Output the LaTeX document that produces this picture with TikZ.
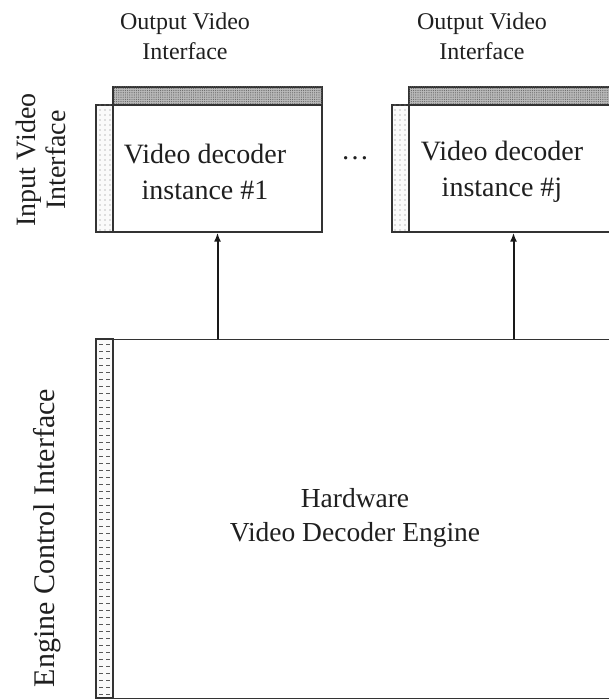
\documentclass[tikz,border=0pt]{standalone}
\usepackage{fontspec}
\setmainfont{Liberation Serif}
\usetikzlibrary{patterns.meta,arrows.meta}
\begin{document}
\begin{tikzpicture}[x=1pt,y=-1pt,
  lbl/.style={align=center, text=black!88, inner sep=0pt},
  toplbl/.style={lbl, font=\fontsize{24}{30}\selectfont},
  boxlbl/.style={lbl, font=\fontsize{28}{36}\selectfont},
  sidelbl/.style={lbl, font=\fontsize{28}{30}\selectfont},
  body/.style={draw=black!80, line width=1.3pt, fill=white, inner sep=0pt},
  topstrip/.style={draw=black!80, line width=1.3pt, fill=gray!55, postaction={pattern={Dots[radius=0.6pt,distance=2.2pt]}, pattern color=black!60}},
  sidestrip/.style={draw=black!80, line width=1.3pt, fill=gray!4, postaction={pattern={Dots[radius=0.6pt,distance=5pt]}, pattern color=black!50}},
  link/.style={draw=black!90, line width=2pt, -{Latex[length=9pt,width=7pt]}}
]
\useasboundingbox (0,0) rectangle (609,700);
\clip (0,0) rectangle (609,700);
% instance boxes
\draw[topstrip] (113,87) rectangle (322,105);
\draw[sidestrip] (96,105) rectangle (113,232);
\node[body, minimum width=209pt, minimum height=127pt] (b1) at (217.5,168.5) {};
\draw[topstrip] (409,87) rectangle (640,105);
\draw[sidestrip] (392,105) rectangle (409,232);
\node[body, minimum width=209pt, minimum height=127pt] (b2) at (513.5,168.5) {};
\node[boxlbl] (t1) at (205,172) {Video decoder\\instance \#1};
\node[boxlbl] (t2) at (502,172) {Video decoder\\instance \#j};
\node[boxlbl] (dots) at (355,158) {\dots};
% output labels
\node[toplbl] (o1) at (185,36) {Output Video\\Interface};
\node[toplbl] (o2) at (482,36) {Output Video\\Interface};
% input label
\node[sidelbl, rotate=90] (in) at (41,160) {Input Video\\Interface};
% engine
\node[body, minimum width=520pt, minimum height=359pt, anchor=north west] (eng) at (113,339) {};
\fill[gray!4] (96,339) rectangle (113,698);
\foreach \y in {344,351,...,695} {
  \draw[black!65, line width=1pt] (99,\y) -- (103,\y);
  \draw[black!65, line width=1pt] (106,\y) -- (110,\y);
}
\draw[draw=black!80, line width=1.3pt] (96,339) rectangle (113,698);
\node[boxlbl, font=\fontsize{27.5}{34}\selectfont] (hw) at (355,518) {Hardware\\Video Decoder Engine};
\node[lbl, rotate=90, font=\fontsize{30}{34}\selectfont] (eci) at (47,538) {Engine Control Interface};
% arrows
\draw[link] (b1.south |- eng.north) -- (b1.south);
\draw[link] (b2.south |- eng.north) -- (b2.south);
\end{tikzpicture}
\end{document}
